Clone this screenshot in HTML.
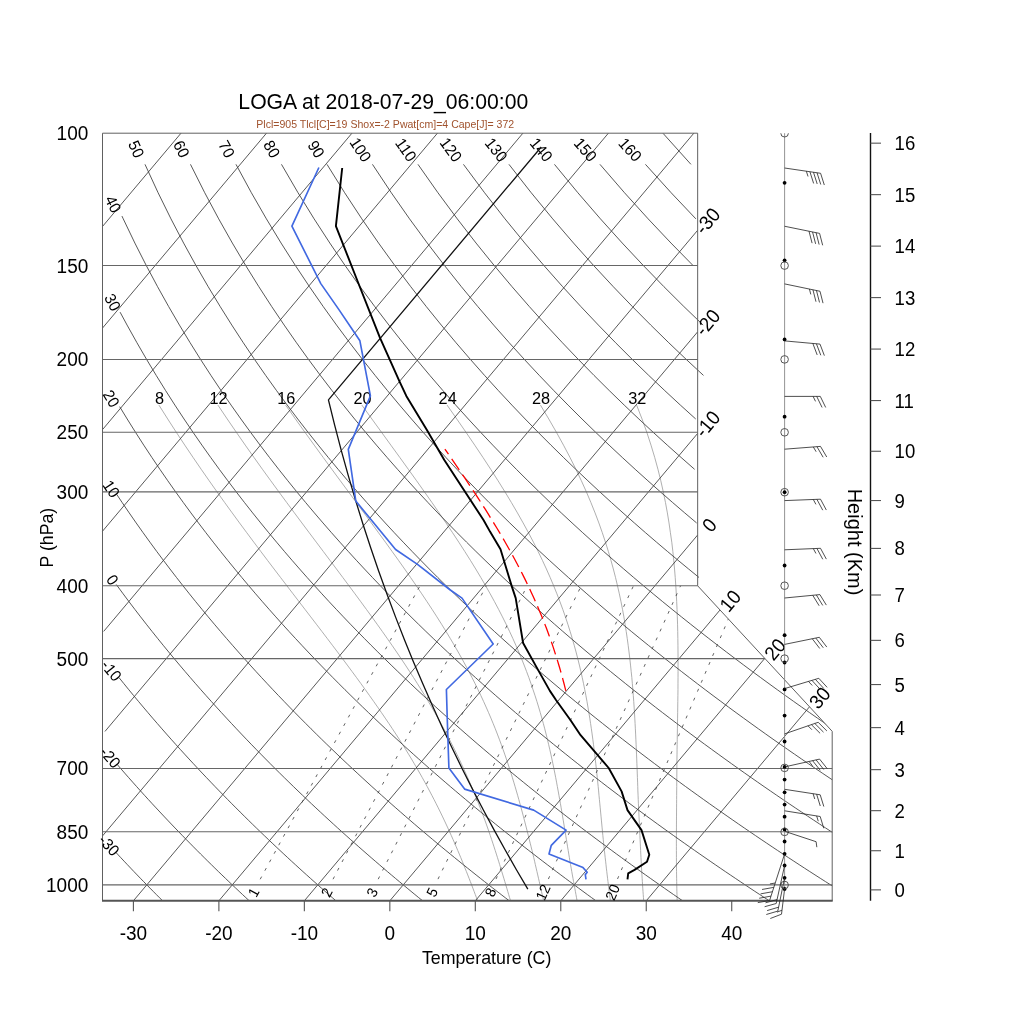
<!DOCTYPE html>
<html><head><meta charset="utf-8"><title>Skew-T LOGA</title>
<style>html,body{margin:0;padding:0;background:#fff;}svg{display:block;will-change:transform;}text{font-family:"Liberation Sans",sans-serif;}</style>
</head><body>
<svg width="1024" height="1024" viewBox="0 0 1024 1024"><defs><clipPath id="cp"><polygon points="102.5,900.8 832.2,900.8 832.2,731.32 697.66,585.8 697.66,133.2 102.5,133.2"/></clipPath><clipPath id="cp2"><polygon points="102.5,900.8 832.2,900.8 832.2,731.32 697.66,585.8 705.57,577.27 705.57,133.2 102.5,133.2"/></clipPath></defs>
<g clip-path="url(#cp)" fill="none" stroke="#9a9a9a" stroke-width="0.8"><polyline points="158.94,405.11 167.72,419.01 176.33,432.33 184.79,445.13 193.08,457.45 201.22,469.33 209.2,480.78 217.03,491.85 224.69,502.55 232.21,512.92 239.56,522.96 246.77,532.71 253.82,542.17 260.73,551.37 267.48,560.31 274.09,569.01 280.56,577.49 286.88,585.76 293.05,593.82 299.09,601.69 304.98,609.37 310.74,616.87 316.36,624.21 321.85,631.38 327.2,638.4 332.41,645.28 337.5,652.01 342.45,658.6 347.28,665.07 351.98,671.41 356.55,677.62 361,683.73 365.33,689.72 369.54,695.6 373.63,701.37 377.61,707.05 381.47,712.63 385.23,718.12 388.88,723.51 392.42,728.82 395.86,734.05 399.19,739.19 402.43,744.25 405.55,749.23 408.54,754.14 411.47,758.98 414.3,763.74 417.05,768.44 419.71,773.07 422.29,777.64 424.79,782.14 427.21,786.58 429.56,790.96 431.84,795.29 434.05,799.55 436.19,803.77 438.28,807.92 440.3,812.03 442.27,816.09 444.18,820.09 446.04,824.05 447.85,827.96 449.61,831.82 451.33,835.64 453,839.41 454.63,843.14 456.23,846.83 457.78,850.48 459.3,854.09 460.79,857.65 462.24,861.18 463.66,864.67 465.02,868.13 466.4,871.55 467.74,874.93 469.06,878.28 470.35,881.59 471.61,884.87 472.85,888.12 474.07,891.34 475.27,894.52 476.46,897.68 477.63,900.8"/><polyline points="217.93,405.11 227.26,419.01 236.38,432.33 245.28,445.13 253.98,457.45 262.48,469.33 270.77,480.78 278.86,491.85 286.74,502.55 294.43,512.92 301.91,522.96 309.21,532.71 316.31,542.17 323.22,551.37 329.94,560.31 336.47,569.01 342.82,577.49 348.98,585.76 354.97,593.82 360.77,601.69 366.4,609.37 371.86,616.87 377.14,624.21 382.25,631.38 387.2,638.4 391.99,645.28 396.61,652.01 401.08,658.6 405.4,665.07 409.56,671.41 413.58,677.62 417.45,683.73 421.19,689.72 424.8,695.6 428.27,701.37 431.62,707.05 434.84,712.63 437.95,718.12 440.95,723.51 443.84,728.82 446.62,734.05 449.29,739.19 451.88,744.25 454.39,749.23 456.8,754.14 459.13,758.98 461.37,763.74 463.54,768.44 465.64,773.07 467.67,777.64 469.64,782.14 471.54,786.58 473.38,790.96 475.17,795.29 476.91,799.55 478.6,803.77 480.24,807.92 481.84,812.03 483.37,816.09 484.84,820.09 486.27,824.05 487.65,827.96 489,831.82 490.3,835.64 491.58,839.41 492.82,843.14 494.03,846.83 495.21,850.48 496.36,854.09 497.49,857.65 498.6,861.18 499.68,864.67 500.72,868.13 501.78,871.55 502.81,874.93 503.82,878.28 504.82,881.59 505.8,884.87 506.77,888.12 507.72,891.34 508.67,894.52 509.6,897.68 510.54,900.8"/><polyline points="285.65,405.11 295.45,419.01 304.97,432.33 314.22,445.13 323.19,457.45 331.89,469.33 340.32,480.78 348.49,491.85 356.39,502.55 363.98,512.92 371.37,522.96 378.51,532.71 385.41,542.17 392.06,551.37 398.47,560.31 404.64,569.01 410.58,577.49 416.28,585.76 421.77,593.82 427.03,601.69 432.08,609.37 436.92,616.87 441.55,624.21 445.99,631.38 450.23,638.4 454.29,645.28 458.17,652.01 461.88,658.6 465.42,665.07 468.8,671.41 472.03,677.62 475.12,683.73 478.06,689.72 480.87,695.6 483.56,701.37 486.12,707.05 488.57,712.63 490.91,718.12 493.15,723.51 495.3,728.82 497.34,734.05 499.3,739.19 501.18,744.25 502.98,749.23 504.7,754.14 506.36,758.98 507.96,763.74 509.49,768.44 510.97,773.07 512.39,777.64 513.76,782.14 515.09,786.58 516.37,790.96 517.62,795.29 518.82,799.55 519.99,803.77 521.12,807.92 522.23,812.03 523.31,816.09 524.36,820.09 525.38,824.05 526.38,827.96 527.37,831.82 528.33,835.64 529.27,839.41 530.2,843.14 531.12,846.83 532.02,850.48 532.91,854.09 533.75,857.65 534.58,861.18 535.35,864.67 536.16,868.13 536.95,871.55 537.73,874.93 538.49,878.28 539.25,881.59 539.99,884.87 540.73,888.12 541.46,891.34 542.19,894.52 542.91,897.68 543.63,900.8"/><polyline points="361.88,405.11 371.92,419.01 381.58,432.33 390.87,445.13 399.8,457.45 408.37,469.33 416.58,480.78 424.45,491.85 431.97,502.55 439.17,512.92 446.03,522.96 452.54,532.71 458.79,542.17 464.73,551.37 470.38,560.31 475.74,569.01 480.82,577.49 485.64,585.76 490.2,593.82 494.52,601.69 498.6,609.37 502.46,616.87 506.11,624.21 509.55,631.38 512.8,638.4 515.87,645.28 518.77,652.01 521.51,658.6 524.1,665.07 526.54,671.41 528.86,677.62 531.03,683.73 533.06,689.72 535.04,695.6 536.88,701.37 538.62,707.05 540.27,712.63 541.84,718.12 543.33,723.51 544.74,728.82 546.08,734.05 547.35,739.19 548.57,744.25 549.73,749.23 550.83,754.14 551.89,758.98 552.9,763.74 553.87,768.44 554.8,773.07 555.7,777.64 556.56,782.14 557.35,786.58 558.16,790.96 558.95,795.29 559.71,799.55 560.45,803.77 561.16,807.92 561.86,812.03 562.54,816.09 563.21,820.09 563.86,824.05 564.51,827.96 565.14,831.82 565.76,835.64 566.38,839.41 566.99,843.14 567.59,846.83 568.19,850.48 568.79,854.09 569.39,857.65 569.95,861.18 570.56,864.67 571.17,868.13 571.77,871.55 572.37,874.93 572.97,878.28 573.57,881.59 574.18,884.87 574.78,888.12 575.37,891.34 575.95,894.52 576.53,897.68 577.1,900.8"/><polyline points="447.08,405.11 456.81,419.01 466.02,432.33 474.74,445.13 482.98,457.45 490.75,469.33 498.07,480.78 504.96,491.85 511.42,502.55 517.46,512.92 523.15,522.96 528.47,532.71 533.44,542.17 538.07,551.37 542.39,560.31 546.42,569.01 550.17,577.49 553.66,585.76 556.92,593.82 559.95,601.69 562.77,609.37 565.4,616.87 567.84,624.21 570.1,631.38 572.24,638.4 574.21,645.28 576.05,652.01 577.77,658.6 579.37,665.07 580.86,671.41 582.25,677.62 583.55,683.73 584.76,689.72 585.9,695.6 586.96,701.37 587.95,707.05 588.89,712.63 589.77,718.12 590.59,723.51 591.37,728.82 592.11,734.05 592.8,739.19 593.46,744.25 594.08,749.23 594.68,754.14 595.24,758.98 595.78,763.74 596.3,768.44 596.8,773.07 597.27,777.64 597.73,782.14 598.18,786.58 598.61,790.96 598.99,795.29 599.41,799.55 599.82,803.77 600.22,807.92 600.61,812.03 601,816.09 601.38,820.09 601.75,824.05 602.13,827.96 602.5,831.82 602.87,835.64 603.25,839.41 603.62,843.14 604,846.83 604.39,850.48 604.79,854.09 605.2,857.65 605.6,861.18 605.99,864.67 606.37,868.13 606.77,871.55 607.18,874.93 607.57,878.28 607.97,881.59 608.37,884.87 608.77,888.12 609.17,891.34 609.58,894.52 609.99,897.68 610.41,900.8"/><polyline points="540.48,405.11 548.79,419.01 556.45,432.33 563.51,445.13 569.99,457.45 575.94,469.33 581.38,480.78 586.37,491.85 590.92,502.55 595.07,512.92 598.86,522.96 602.3,532.71 605.45,542.17 608.33,551.37 610.95,560.31 613.34,569.01 615.53,577.49 617.49,585.76 619.34,593.82 621,601.69 622.51,609.37 623.88,616.87 625.07,624.21 626.2,631.38 627.23,638.4 628.17,645.28 629.03,652.01 629.81,658.6 630.53,665.07 631.18,671.41 631.83,677.62 632.37,683.73 632.86,689.72 633.31,695.6 633.73,701.37 634.11,707.05 634.46,712.63 634.79,718.12 635.09,723.51 635.37,728.82 635.63,734.05 635.87,739.19 636.1,744.25 636.32,749.23 636.52,754.14 636.72,758.98 636.9,763.74 637.08,768.44 637.26,773.07 637.43,777.64 637.6,782.14 637.76,786.58 637.89,790.96 638.07,795.29 638.24,799.55 638.41,803.77 638.59,807.92 638.79,812.03 638.99,816.09 639.18,820.09 639.36,824.05 639.55,827.96 639.73,831.82 639.91,835.64 640.09,839.41 640.27,843.14 640.45,846.83 640.63,850.48 640.81,854.09 640.99,857.65 641.17,861.18 641.34,864.67 641.54,868.13 641.74,871.55 641.94,874.93 642.14,878.28 642.35,881.59 642.56,884.87 642.77,888.12 642.99,891.34 643.22,894.52 643.45,897.68 643.7,900.8"/><polyline points="636.64,405.11 642.04,419.01 646.82,432.33 651,445.13 654.71,457.45 657.96,469.33 660.8,480.78 663.29,491.85 665.47,502.55 667.37,512.92 669.03,522.96 670.4,532.71 671.78,542.17 672.85,551.37 673.74,560.31 674.54,569.01 675.22,577.49 675.8,585.76 676.29,593.82 676.7,601.69 677.04,609.37 677.32,616.87 677.55,624.21 677.72,631.38 677.85,638.4 677.95,645.28 678.01,652.01 678.05,658.6 678.06,665.07 678.06,671.41 678.03,677.62 677.99,683.73 677.97,689.72 677.9,695.6 677.82,701.37 677.74,707.05 677.66,712.63 677.58,718.12 677.49,723.51 677.41,728.82 677.32,734.05 677.24,739.19 677.16,744.25 677.09,749.23 677.02,754.14 676.95,758.98 676.9,763.74 676.88,768.44 676.85,773.07 676.82,777.64 676.76,782.14 676.73,786.58 676.7,790.96 676.67,795.29 676.64,799.55 676.6,803.77 676.57,807.92 676.54,812.03 676.51,816.09 676.49,820.09 676.46,824.05 676.44,827.96 676.43,831.82 676.41,835.64 676.4,839.41 676.4,843.14 676.4,846.83 676.4,850.48 676.41,854.09 676.43,857.65 676.45,861.18 676.46,864.67 676.49,868.13 676.54,871.55 676.58,874.93 676.63,878.28 676.69,881.59 676.75,884.87 676.82,888.12 676.89,891.34 676.97,894.52 677.06,897.68 677.16,900.8"/></g>
<g clip-path="url(#cp)" fill="none" stroke="#3a3a3a" stroke-width="0.8" stroke-dasharray="3,6.7" stroke-dashoffset="3.3"><line x1="257.14" y1="884.87" x2="420.01" y2="585.76"/><line x1="330.08" y1="884.87" x2="486.27" y2="585.76"/><line x1="375.31" y1="884.87" x2="527.22" y2="585.76"/><line x1="435.18" y1="884.87" x2="581.25" y2="585.76"/><line x1="493.27" y1="884.87" x2="633.51" y2="585.76"/><line x1="545.75" y1="884.87" x2="680.59" y2="585.76"/><line x1="615.02" y1="884.87" x2="742.55" y2="585.76"/></g>
<g stroke="#3a3a3a" stroke-width="0.85"><line x1="102.53" y1="226.46" x2="181.01" y2="133.2"/><line x1="102.58" y1="327.98" x2="266.48" y2="133.2"/><line x1="102.63" y1="429.49" x2="351.96" y2="133.2"/><line x1="102.52" y1="531.2" x2="437.43" y2="133.2"/><line x1="103.69" y1="631.38" x2="522.91" y2="133.2"/><line x1="104.96" y1="731.44" x2="608.38" y2="133.2"/><line x1="102.51" y1="835.94" x2="693.85" y2="133.2"/><line x1="133.4" y1="900.8" x2="697.62" y2="230.3"/><line x1="218.88" y1="900.8" x2="697.51" y2="332.01"/><line x1="304.35" y1="900.8" x2="697.56" y2="433.52"/><line x1="389.83" y1="900.8" x2="697.61" y2="535.04"/><line x1="475.3" y1="900.8" x2="719.95" y2="610.07"/><line x1="560.78" y1="900.8" x2="764.73" y2="658.43"/><line x1="646.25" y1="900.8" x2="809.51" y2="706.79"/></g>
<g clip-path="url(#cp2)" fill="none" stroke="#3a3a3a" stroke-width="0.85"><polyline points="162.58,900.8 159.45,897.68 156.31,894.52 153.16,891.34 149.99,888.12 146.81,884.87 143.61,881.59 140.39,878.28 137.17,874.93 133.92,871.55 130.66,868.13 127.39,864.67 124.09,861.18 120.79,857.65 117.46,854.09 115.79,852.29"/><polyline points="249.25,900.8 245.89,897.68 242.51,894.52 239.12,891.34 235.71,888.12 232.28,884.87 228.84,881.59 225.38,878.28 221.9,874.93 218.4,871.55 214.89,868.13 211.36,864.67 207.81,861.18 204.25,857.65 200.66,854.09 197.06,850.48 193.44,846.83 189.8,843.14 186.13,839.41 182.45,835.64 178.75,831.82 175.03,827.96 171.29,824.05 167.53,820.09 163.74,816.09 159.94,812.03 156.11,807.92 152.26,803.77 148.39,799.55 144.49,795.29 140.57,790.96 136.63,786.58 132.67,782.14 128.68,777.64 124.66,773.07 120.63,768.44 117.05,764.31"/><polyline points="335.93,900.8 332.33,897.68 328.71,894.52 325.08,891.34 321.43,888.12 317.76,884.87 314.07,881.59 310.36,878.28 306.63,874.93 302.89,871.55 299.12,868.13 295.34,864.67 291.53,861.18 287.71,857.65 283.87,854.09 280,850.48 276.11,846.83 272.2,843.14 268.27,839.41 264.32,835.64 260.35,831.82 256.35,827.96 252.33,824.05 248.29,820.09 244.22,816.09 240.13,812.03 236.02,807.92 231.88,803.77 227.71,799.55 223.52,795.29 219.3,790.96 215.06,786.58 210.79,782.14 206.5,777.64 202.17,773.07 197.82,768.44 193.44,763.74 189.03,758.98 184.59,754.14 180.12,749.23 175.62,744.25 171.09,739.19 166.53,734.05 161.93,728.82 157.3,723.51 152.64,718.12 147.95,712.63 143.22,707.05 138.45,701.37 133.65,695.6 128.82,689.72 123.94,683.73 119.03,677.62 118.93,677.5"/><polyline points="422.6,900.8 418.76,897.68 414.91,894.52 411.04,891.34 407.14,888.12 403.23,884.87 399.3,881.59 395.34,878.28 391.37,874.93 387.37,871.55 383.35,868.13 379.32,864.67 375.26,861.18 371.17,857.65 367.07,854.09 362.94,850.48 358.79,846.83 354.61,843.14 350.42,839.41 346.19,835.64 341.95,831.82 337.67,827.96 333.38,824.05 329.05,820.09 324.7,816.09 320.33,812.03 315.92,807.92 311.49,803.77 307.04,799.55 302.55,795.29 298.03,790.96 293.49,786.58 288.92,782.14 284.31,777.64 279.68,773.07 275.01,768.44 270.31,763.74 265.58,758.98 260.82,754.14 256.03,749.23 251.2,744.25 246.33,739.19 241.43,734.05 236.49,728.82 231.52,723.51 226.51,718.12 221.46,712.63 216.37,707.05 211.25,701.37 206.08,695.6 200.87,689.72 195.62,683.73 190.33,677.62 184.99,671.41 179.61,665.07 174.18,658.6 168.71,652.01 163.19,645.28 157.62,638.4 152,631.38 146.33,624.21 140.61,616.87 134.84,609.37 129.01,601.69 123.13,593.82 117.19,585.76 116.29,584.53"/><polyline points="509.27,900.8 505.2,897.68 501.11,894.52 497,891.34 492.86,888.12 488.7,884.87 484.53,881.59 480.32,878.28 476.1,874.93 471.86,871.55 467.59,868.13 463.29,864.67 458.98,861.18 454.64,857.65 450.27,854.09 445.88,850.48 441.46,846.83 437.02,843.14 432.56,839.41 428.06,835.64 423.54,831.82 418.99,827.96 414.42,824.05 409.82,820.09 405.18,816.09 400.52,812.03 395.83,807.92 391.11,803.77 386.36,799.55 381.58,795.29 376.77,790.96 371.92,786.58 367.04,782.14 362.13,777.64 357.19,773.07 352.21,768.44 347.19,763.74 342.14,758.98 337.06,754.14 331.93,749.23 326.77,744.25 321.57,739.19 316.33,734.05 311.06,728.82 305.74,723.51 300.38,718.12 294.98,712.63 289.53,707.05 284.04,701.37 278.51,695.6 272.93,689.72 267.3,683.73 261.62,677.62 255.9,671.41 250.13,665.07 244.3,658.6 238.42,652.01 232.49,645.28 226.51,638.4 220.47,631.38 214.37,624.21 208.21,616.87 202,609.37 195.72,601.69 189.38,593.82 182.97,585.76 176.5,577.49 169.97,569.01 163.36,560.31 156.68,551.37 149.93,542.17 143.1,532.71 136.2,522.96 129.22,512.92 122.16,502.55 116.88,494.67"/><polyline points="595.95,900.8 591.64,897.68 587.31,894.52 582.96,891.34 578.58,888.12 574.18,884.87 569.76,881.59 565.31,878.28 560.84,874.93 556.34,871.55 551.82,868.13 547.27,864.67 542.7,861.18 538.1,857.65 533.47,854.09 528.82,850.48 524.14,846.83 519.43,843.14 514.7,839.41 509.93,835.64 505.14,831.82 500.32,827.96 495.46,824.05 490.58,820.09 485.66,816.09 480.72,812.03 475.74,807.92 470.73,803.77 465.69,799.55 460.61,795.29 455.5,790.96 450.35,786.58 445.17,782.14 439.95,777.64 434.69,773.07 429.4,768.44 424.07,763.74 418.7,758.98 413.29,754.14 407.84,749.23 402.35,744.25 396.82,739.19 391.24,734.05 385.62,728.82 379.96,723.51 374.25,718.12 368.49,712.63 362.69,707.05 356.83,701.37 350.93,695.6 344.98,689.72 338.98,683.73 332.92,677.62 326.81,671.41 320.64,665.07 314.42,658.6 308.14,652.01 301.8,645.28 295.4,638.4 288.94,631.38 282.41,624.21 275.82,616.87 269.16,609.37 262.43,601.69 255.63,593.82 248.76,585.76 241.82,577.49 234.8,569.01 227.7,560.31 220.52,551.37 213.25,542.17 205.91,532.71 198.47,522.96 190.95,512.92 183.33,502.55 175.62,491.85 167.81,480.78 159.9,469.33 151.88,457.45 143.76,445.13 135.54,432.33 127.2,419.01 119.68,406.67"/><polyline points="682.62,900.8 678.08,897.68 673.51,894.52 668.92,891.34 664.3,888.12 659.65,884.87 654.98,881.59 650.29,878.28 645.57,874.93 640.82,871.55 636.05,868.13 631.25,864.67 626.42,861.18 621.56,857.65 616.67,854.09 611.76,850.48 606.82,846.83 601.84,843.14 596.84,839.41 591.8,835.64 586.74,831.82 581.64,827.96 576.51,824.05 571.34,820.09 566.14,816.09 560.91,812.03 555.65,807.92 550.35,803.77 545.01,799.55 539.64,795.29 534.23,790.96 528.78,786.58 523.29,782.14 517.77,777.64 512.2,773.07 506.59,768.44 500.95,763.74 495.26,758.98 489.52,754.14 483.75,749.23 477.92,744.25 472.06,739.19 466.14,734.05 460.18,728.82 454.17,723.51 448.11,718.12 442,712.63 435.84,707.05 429.63,701.37 423.36,695.6 417.03,689.72 410.65,683.73 404.21,677.62 397.72,671.41 391.16,665.07 384.54,658.6 377.85,652.01 371.1,645.28 364.29,638.4 357.4,631.38 350.45,624.21 343.42,616.87 336.32,609.37 329.14,601.69 321.89,593.82 314.55,585.76 307.13,577.49 299.63,569.01 292.04,560.31 284.35,551.37 276.58,542.17 268.71,532.71 260.74,522.96 252.67,512.92 244.5,502.55 236.21,491.85 227.82,480.78 219.31,469.33 210.68,457.45 201.93,445.13 193.06,432.33 184.05,419.01 174.91,405.11 165.64,390.6 156.22,375.42 146.65,359.49 136.94,342.74 127.08,325.09 120.09,312.15"/><polyline points="769.3,900.8 764.52,897.68 759.71,894.52 754.87,891.34 750.01,888.12 745.13,884.87 740.21,881.59 735.27,878.28 730.3,874.93 725.31,871.55 720.28,868.13 715.22,864.67 710.14,861.18 705.02,857.65 699.88,854.09 694.7,850.48 689.49,846.83 684.25,843.14 678.98,839.41 673.67,835.64 668.33,831.82 662.96,827.96 657.55,824.05 652.11,820.09 646.63,816.09 641.11,812.03 635.56,807.92 629.96,803.77 624.33,799.55 618.67,795.29 612.96,790.96 607.21,786.58 601.42,782.14 595.58,777.64 589.71,773.07 583.79,768.44 577.82,763.74 571.81,758.98 565.76,754.14 559.65,749.23 553.5,744.25 547.3,739.19 541.05,734.05 534.75,728.82 528.39,723.51 521.98,718.12 515.52,712.63 509,707.05 502.42,701.37 495.78,695.6 489.09,689.72 482.33,683.73 475.51,677.62 468.63,671.41 461.68,665.07 454.66,658.6 447.57,652.01 440.41,645.28 433.18,638.4 425.87,631.38 418.49,624.21 411.03,616.87 403.48,609.37 395.85,601.69 388.14,593.82 380.34,585.76 372.44,577.49 364.46,569.01 356.37,560.31 348.19,551.37 339.9,542.17 331.51,532.71 323.01,522.96 314.39,512.92 305.66,502.55 296.81,491.85 287.83,480.78 278.72,469.33 269.48,457.45 260.1,445.13 250.58,432.33 240.91,419.01 231.08,405.11 221.09,390.6 210.94,375.42 200.62,359.49 190.13,342.74 179.45,325.09 168.59,306.44 157.54,286.65 146.3,265.58 134.87,243.06 123.25,218.86 121.96,216.09"/><polyline points="835.73,888.12 830.6,884.87 825.44,881.59 820.26,878.28 815.04,874.93 809.79,871.55 804.51,868.13 799.2,864.67 793.86,861.18 788.49,857.65 783.08,854.09 777.64,850.48 772.17,846.83 766.66,843.14 761.12,839.41 755.54,835.64 749.93,831.82 744.28,827.96 738.59,824.05 732.87,820.09 727.11,816.09 721.3,812.03 715.46,807.92 709.58,803.77 703.66,799.55 697.69,795.29 691.69,790.96 685.64,786.58 679.54,782.14 673.4,777.64 667.21,773.07 660.98,768.44 654.7,763.74 648.37,758.98 641.99,754.14 635.56,749.23 629.08,744.25 622.54,739.19 615.95,734.05 609.31,728.82 602.61,723.51 595.85,718.12 589.03,712.63 582.15,707.05 575.21,701.37 568.21,695.6 561.14,689.72 554.01,683.73 546.81,677.62 539.53,671.41 532.19,665.07 524.78,658.6 517.28,652.01 509.72,645.28 502.07,638.4 494.34,631.38 486.53,624.21 478.63,616.87 470.64,609.37 462.56,601.69 454.39,593.82 446.13,585.76 437.76,577.49 429.29,569.01 420.71,560.31 412.03,551.37 403.23,542.17 394.31,532.71 385.28,522.96 376.12,512.92 366.83,502.55 357.41,491.85 347.84,480.78 338.14,469.33 328.28,457.45 318.27,445.13 308.1,432.33 297.76,419.01 287.25,405.11 276.55,390.6 265.67,375.42 254.59,359.49 243.31,342.74 231.82,325.09 220.11,306.44 208.17,286.65 196.01,265.58 183.61,243.06 170.97,218.86 158.09,192.73 144.99,164.33"/><polyline points="837.41,835.64 831.52,831.82 825.6,827.96 819.64,824.05 813.63,820.09 807.59,816.09 801.5,812.03 795.37,807.92 789.2,803.77 782.98,799.55 776.72,795.29 770.42,790.96 764.06,786.58 757.67,782.14 751.22,777.64 744.72,773.07 738.17,768.44 731.58,763.74 724.93,758.98 718.22,754.14 711.47,749.23 704.65,744.25 697.78,739.19 690.86,734.05 683.87,728.82 676.82,723.51 669.72,718.12 662.54,712.63 655.31,707.05 648.01,701.37 640.64,695.6 633.2,689.72 625.69,683.73 618.1,677.62 610.44,671.41 602.71,665.07 594.89,658.6 587,652.01 579.02,645.28 570.96,638.4 562.81,631.38 554.57,624.21 546.23,616.87 537.8,609.37 529.28,601.69 520.65,593.82 511.91,585.76 503.07,577.49 494.12,569.01 485.05,560.31 475.86,551.37 466.55,542.17 457.12,532.71 447.55,522.96 437.84,512.92 428,502.55 418,491.85 407.86,480.78 397.55,469.33 387.08,457.45 376.44,445.13 365.62,432.33 354.61,419.01 343.41,405.11 332.01,390.6 320.4,375.42 308.56,359.49 296.49,342.74 284.19,325.09 271.63,306.44 258.81,286.65 245.72,265.58 232.35,243.06 218.69,218.86 204.73,192.73 190.48,164.33"/><polyline points="835.79,782.14 829.04,777.64 822.23,773.07 815.37,768.44 808.45,763.74 801.48,758.98 794.46,754.14 787.37,749.23 780.23,744.25 773.03,739.19 765.76,734.05 758.43,728.82 751.04,723.51 743.58,718.12 736.06,712.63 728.46,707.05 720.8,701.37 713.06,695.6 705.25,689.72 697.36,683.73 689.4,677.62 681.35,671.41 673.22,665.07 665.01,658.6 656.71,652.01 648.33,645.28 639.85,638.4 631.28,631.38 622.61,624.21 613.84,616.87 604.97,609.37 595.99,601.69 586.9,593.82 577.7,585.76 568.39,577.49 558.95,569.01 549.39,560.31 539.7,551.37 529.88,542.17 519.92,532.71 509.82,522.96 499.57,512.92 489.16,502.55 478.6,491.85 467.87,480.78 456.97,469.33 445.88,457.45 434.61,445.13 423.14,432.33 411.47,419.01 399.58,405.11 387.47,390.6 375.12,375.42 362.53,359.49 349.68,342.74 336.56,325.09 323.15,306.44 309.45,286.65 295.43,265.58 281.09,243.06 266.4,218.86 251.37,192.73 235.98,164.33"/><polyline points="833,728.82 825.26,723.51 817.45,718.12 809.57,712.63 801.62,707.05 793.59,701.37 785.49,695.6 777.3,689.72 769.04,683.73 760.69,677.62 752.26,671.41 743.74,665.07 735.13,658.6 726.43,652.01 717.63,645.28 708.74,638.4 699.74,631.38 690.65,624.21 681.44,616.87 672.13,609.37 662.7,601.69 653.15,593.82 643.49,585.76 633.7,577.49 623.78,569.01 613.73,560.31 603.54,551.37 593.21,542.17 582.72,532.71 572.09,522.96 561.29,512.92 550.33,502.55 539.2,491.85 527.88,480.78 516.38,469.33 504.68,457.45 492.78,445.13 480.66,432.33 468.32,419.01 455.75,405.11 442.93,390.6 429.85,375.42 416.5,359.49 402.86,342.74 388.92,325.09 374.67,306.44 360.08,286.65 345.14,265.58 329.83,243.06 314.12,218.86 298.01,192.73 281.47,164.33"/><polyline points="699.01,577.49 688.61,569.01 678.07,560.31 667.38,551.37 656.53,542.17 645.53,532.71 634.36,522.96 623.02,512.92 611.5,502.55 599.79,491.85 587.9,480.78 575.79,469.33 563.48,457.45 550.95,445.13 538.18,432.33 525.18,419.01 511.92,405.11 498.39,390.6 484.57,375.42 470.47,359.49 456.04,342.74 441.29,325.09 426.19,306.44 410.72,286.65 394.85,265.58 378.57,243.06 361.84,218.86 344.65,192.73 326.97,164.33"/><polyline points="696.63,522.96 684.74,512.92 672.67,502.55 660.39,491.85 647.91,480.78 635.21,469.33 622.28,457.45 609.12,445.13 595.71,432.33 582.03,419.01 568.08,405.11 553.84,390.6 539.3,375.42 524.43,359.49 509.23,342.74 493.66,325.09 477.71,306.44 461.35,286.65 444.56,265.58 427.31,243.06 409.56,218.86 391.29,192.73 372.46,164.33"/><polyline points="694.62,469.33 681.08,457.45 667.29,445.13 653.23,432.33 638.89,419.01 624.25,405.11 609.3,390.6 594.03,375.42 578.4,359.49 562.41,342.74 546.03,325.09 529.23,306.44 511.99,286.65 494.27,265.58 476.05,243.06 457.28,218.86 437.93,192.73 417.96,164.33"/><polyline points="695.74,419.01 680.42,405.11 664.76,390.6 648.75,375.42 632.37,359.49 615.6,342.74 598.4,325.09 580.75,306.44 562.62,286.65 543.98,265.58 524.79,243.06 505,218.86 484.57,192.73 463.45,164.33"/><polyline points="703.48,375.42 686.34,359.49 668.78,342.74 650.77,325.09 632.27,306.44 613.26,286.65 593.69,265.58 573.53,243.06 552.72,218.86 531.21,192.73 508.95,164.33"/><polyline points="703.13,325.09 683.79,306.44 663.89,286.65 643.4,265.58 622.27,243.06 600.44,218.86 577.85,192.73 554.44,164.33"/><polyline points="693.11,265.58 671.01,243.06 648.16,218.86 624.49,192.73 599.94,164.33"/><polyline points="695.88,218.86 671.13,192.73 645.43,164.33"/><polyline points="690.93,164.33 662.95,133.22"/></g>
<g stroke="#666" stroke-width="1.05"><line x1="102.5" y1="884.87" x2="832.2" y2="884.87"/><line x1="102.5" y1="831.82" x2="832.2" y2="831.82"/><line x1="102.5" y1="768.44" x2="832.2" y2="768.44"/><line x1="102.5" y1="658.6" x2="764.96" y2="658.6"/><line x1="102.5" y1="585.76" x2="697.66" y2="585.76"/><line x1="102.5" y1="491.85" x2="697.66" y2="491.85"/><line x1="102.5" y1="432.33" x2="697.66" y2="432.33"/><line x1="102.5" y1="359.49" x2="697.66" y2="359.49"/><line x1="102.5" y1="265.58" x2="697.66" y2="265.58"/></g>
<polyline points="832.2,900.8 832.2,731.32 697.66,585.8 697.66,133.2 102.5,133.2 102.5,900.8" fill="none" stroke="#606060" stroke-width="1.0"/>
<line x1="102" y1="900.8" x2="832.7" y2="900.8" stroke="#555" stroke-width="2"/>
<g stroke="#555" stroke-width="1.1"><line x1="133.4" y1="900.8" x2="133.4" y2="911.3"/><line x1="218.88" y1="900.8" x2="218.88" y2="911.3"/><line x1="304.35" y1="900.8" x2="304.35" y2="911.3"/><line x1="389.83" y1="900.8" x2="389.83" y2="911.3"/><line x1="475.3" y1="900.8" x2="475.3" y2="911.3"/><line x1="560.78" y1="900.8" x2="560.78" y2="911.3"/><line x1="646.25" y1="900.8" x2="646.25" y2="911.3"/><line x1="731.73" y1="900.8" x2="731.73" y2="911.3"/></g>
<g font-family="Liberation Sans, sans-serif"><text transform="translate(136.4,149.1) rotate(65.23) scale(1,1.05)" y="5.32" font-size="15.2" text-anchor="middle">50</text><text transform="translate(181.5,149.1) rotate(63.36) scale(1,1.05)" y="5.32" font-size="15.2" text-anchor="middle">60</text><text transform="translate(226.6,149.1) rotate(61.54) scale(1,1.05)" y="5.32" font-size="15.2" text-anchor="middle">70</text><text transform="translate(271.8,149.1) rotate(59.79) scale(1,1.05)" y="5.32" font-size="15.2" text-anchor="middle">80</text><text transform="translate(316.3,149.1) rotate(58.09) scale(1,1.05)" y="5.32" font-size="15.2" text-anchor="middle">90</text><text transform="translate(360.6,149.7) rotate(56.46) scale(1,1.05)" y="5.32" font-size="15.2" text-anchor="middle">100</text><text transform="translate(406,149.7) rotate(54.88) scale(1,1.05)" y="5.32" font-size="15.2" text-anchor="middle">110</text><text transform="translate(451.1,149.7) rotate(53.37) scale(1,1.05)" y="5.32" font-size="15.2" text-anchor="middle">120</text><text transform="translate(496.2,149.7) rotate(51.91) scale(1,1.05)" y="5.32" font-size="15.2" text-anchor="middle">130</text><text transform="translate(541.3,149.7) rotate(50.51) scale(1,1.05)" y="5.32" font-size="15.2" text-anchor="middle">140</text><text transform="translate(585.6,149.7) rotate(49.16) scale(1,1.05)" y="5.32" font-size="15.2" text-anchor="middle">150</text><text transform="translate(630.2,149.7) rotate(47.86) scale(1,1.05)" y="5.32" font-size="15.2" text-anchor="middle">160</text><text transform="translate(113.3,204.2) rotate(64.49) scale(1,1.05)" y="5.32" font-size="15.2" text-anchor="middle">40</text><text transform="translate(112.6,302.3) rotate(61.48) scale(1,1.05)" y="5.32" font-size="15.2" text-anchor="middle">30</text><text transform="translate(111.4,398.5) rotate(58.6) scale(1,1.05)" y="5.32" font-size="15.2" text-anchor="middle">20</text><text transform="translate(111.4,488.9) rotate(56.14) scale(1,1.05)" y="5.32" font-size="15.2" text-anchor="middle">10</text><text transform="translate(112.4,579.9) rotate(53.68) scale(1,1.05)" y="5.32" font-size="15.2" text-anchor="middle">0</text><text transform="translate(111.4,670.5) rotate(51.18) scale(1,1.05)" y="5.32" font-size="15.2" text-anchor="middle">-10</text><text transform="translate(110.3,757.3) rotate(49.1) scale(1,1.05)" y="5.32" font-size="15.2" text-anchor="middle">-20</text><text transform="translate(109.1,845.3) rotate(47.11) scale(1,1.05)" y="5.32" font-size="15.2" text-anchor="middle">-30</text><text transform="translate(707.36,220.86) rotate(-49.92) scale(1,1.05)" y="6.58" font-size="18.8" text-anchor="middle">-30</text><text transform="translate(707.36,322.43) rotate(-49.92) scale(1,1.05)" y="6.58" font-size="18.8" text-anchor="middle">-20</text><text transform="translate(707.36,424.01) rotate(-49.92) scale(1,1.05)" y="6.58" font-size="18.8" text-anchor="middle">-10</text><text transform="translate(709.36,525.08) rotate(-49.92) scale(1,1.05)" y="6.58" font-size="18.8" text-anchor="middle">0</text><text transform="translate(730.22,600.89) rotate(-49.92) scale(1,1.05)" y="6.58" font-size="18.8" text-anchor="middle">10</text><text transform="translate(774.97,649.29) rotate(-49.92) scale(1,1.05)" y="6.58" font-size="18.8" text-anchor="middle">20</text><text transform="translate(819.71,697.68) rotate(-49.92) scale(1,1.05)" y="6.58" font-size="18.8" text-anchor="middle">30</text><text transform="translate(159.54,398.3)" y="5.71" font-size="16.3" text-anchor="middle">8</text><text transform="translate(218.53,398.3)" y="5.71" font-size="16.3" text-anchor="middle">12</text><text transform="translate(286.25,398.3)" y="5.71" font-size="16.3" text-anchor="middle">16</text><text transform="translate(362.48,398.3)" y="5.71" font-size="16.3" text-anchor="middle">20</text><text transform="translate(447.68,398.3)" y="5.71" font-size="16.3" text-anchor="middle">24</text><text transform="translate(541.08,398.3)" y="5.71" font-size="16.3" text-anchor="middle">28</text><text transform="translate(637.24,398.3)" y="5.71" font-size="16.3" text-anchor="middle">32</text><text transform="translate(253.63,892.34) rotate(-61.43) scale(1,1.05)" y="4.9" font-size="14" text-anchor="middle">1</text><text transform="translate(326.76,892.34) rotate(-62.43) scale(1,1.05)" y="4.9" font-size="14" text-anchor="middle">2</text><text transform="translate(372.11,892.34) rotate(-63.08) scale(1,1.05)" y="4.9" font-size="14" text-anchor="middle">3</text><text transform="translate(432.15,892.34) rotate(-63.97) scale(1,1.05)" y="4.9" font-size="14" text-anchor="middle">5</text><text transform="translate(490.4,892.34) rotate(-64.88) scale(1,1.05)" y="4.9" font-size="14" text-anchor="middle">8</text><text transform="translate(543.05,892.34) rotate(-65.73) scale(1,1.05)" y="4.9" font-size="14" text-anchor="middle">12</text><text transform="translate(612.53,892.34) rotate(-66.91) scale(1,1.05)" y="4.9" font-size="14" text-anchor="middle">20</text></g>
<polyline points="527.83,889.17 516.42,869.71 505.21,850.02 494.19,830.11 483.36,809.96 472.74,789.58 462.32,768.95 452.11,748.06 442.12,726.92 432.35,705.52 422.81,683.85 413.5,661.89 404.44,639.66 395.61,617.13 387.04,594.3 378.73,571.17 370.69,547.72 362.92,523.94 355.43,499.83 348.22,475.37 341.32,450.57 334.72,425.39 328.44,399.85 328.45,399.84 541.24,146.96" fill="none" stroke="#111" stroke-width="1.3"/>
<polyline points="565.85,690.9 565.14,688.04 564.4,685.16 563.65,682.25 562.87,679.31 562.06,676.35 561.23,673.36 560.38,670.34 559.49,667.29 558.58,664.22 557.64,661.12 556.67,657.98 555.63,654.82 554.62,651.62 553.58,648.4 552.5,645.14 551.35,641.85 550.18,638.52 548.97,635.16 547.72,631.77 546.44,628.34 545.11,624.87 543.74,621.37 542.33,617.83 540.87,614.25 539.36,610.63 537.81,606.97 536.2,603.27 534.55,599.52 532.84,595.74 531.08,591.9 529.26,588.03 527.38,584.1 525.45,580.13 523.45,576.11 521.39,572.04 519.27,567.91 517.08,563.74 514.82,559.51 512.49,555.22 510.09,550.88 507.62,546.48 505.08,542.02 502.45,537.5 499.75,532.91 496.97,528.26 494.11,523.54 491.16,518.75 488.17,513.89 485.07,508.96 481.87,503.95 478.59,498.87 475.22,493.7 471.76,488.45 468.21,483.11 464.56,477.69 460.82,472.17 456.99,466.56 453.06,460.85 449.03,455.04 444.9,449.13" fill="none" stroke="#ff0000" stroke-width="1.3" stroke-dasharray="13.29,5.7"/>
<polyline points="342.2,168 335.9,226.1 357.5,281 379.8,337.3 399.7,381.8 406.3,395.9 426.9,430 444.3,460.1 483.5,520 490,531.6 500.5,549.3 511.8,586.4 515.7,598.1 523.1,643 537.2,668.4 549.9,690.9 556,700 570.4,720 580.6,735.2 608.7,768 621.6,791.4 627.5,810.1 641.5,830.1 649.3,854.7 647,861.7 634.5,869.9 628.2,873.4 627.5,879.3" fill="none" stroke="#000" stroke-width="1.9" stroke-linejoin="round"/>
<polyline points="318.9,167.5 291.9,226.1 320.8,283.6 338.75,309.4 355.2,333.7 359.9,340.8 370.4,395.9 348.3,449.4 355.8,501.1 395.6,549.5 417.5,564.4 450.3,590 462,598.1 493.2,644 446.4,689.5 447.3,720 448.9,768 464.6,789.1 533.7,810.1 566.1,830.1 551.3,845.3 549,854 583,867.6 587.2,872.3 585.3,874.6 586,879.3" fill="none" stroke="#4169e1" stroke-width="1.65" stroke-linejoin="round"/>
<line x1="784.6" y1="133.2" x2="784.6" y2="890" stroke="#888" stroke-width="0.9"/><g fill="#000"><circle cx="784.6" cy="182.8" r="1.9"/><circle cx="784.6" cy="260.3" r="1.9"/><circle cx="784.6" cy="339.4" r="1.9"/><circle cx="784.6" cy="416.7" r="1.9"/><circle cx="784.6" cy="565.5" r="1.9"/><circle cx="784.6" cy="635.2" r="1.9"/><circle cx="784.6" cy="662.5" r="1.9"/><circle cx="784.6" cy="689.4" r="1.9"/><circle cx="784.6" cy="715.6" r="1.9"/><circle cx="784.6" cy="741.5" r="1.9"/><circle cx="784.6" cy="766.9" r="1.9"/><circle cx="784.6" cy="779.6" r="1.9"/><circle cx="784.6" cy="792.3" r="1.9"/><circle cx="784.6" cy="804.6" r="1.9"/><circle cx="784.6" cy="816.7" r="1.9"/><circle cx="784.6" cy="829.4" r="1.9"/><circle cx="784.6" cy="841.5" r="1.9"/><circle cx="784.6" cy="853.8" r="1.9"/><circle cx="784.6" cy="865.5" r="1.9"/><circle cx="784.6" cy="877.8" r="1.9"/><circle cx="784.6" cy="889" r="1.9"/><circle cx="784.6" cy="492.2" r="1.9"/></g><clipPath id="cc"><rect x="700" y="133.2" width="200" height="800"/></clipPath><g clip-path="url(#cc)" fill="none" stroke="#444" stroke-width="0.9"><circle cx="784.6" cy="133.2" r="3.8"/><circle cx="784.6" cy="265.6" r="3.8"/><circle cx="784.6" cy="359.4" r="3.8"/><circle cx="784.6" cy="432.3" r="3.8"/><circle cx="784.6" cy="492.2" r="3.8"/><circle cx="784.6" cy="585.7" r="3.8"/><circle cx="784.6" cy="658.6" r="3.8"/><circle cx="784.6" cy="767.9" r="3.8"/><circle cx="784.6" cy="831.9" r="3.8"/><circle cx="784.6" cy="885" r="3.8"/></g><g stroke="#222" stroke-width="0.8" fill="none"><line x1="784.6" y1="168" x2="820.6" y2="173.3"/><line x1="820.6" y1="173.3" x2="824.32" y2="185.02"/><line x1="817.04" y1="172.78" x2="820.76" y2="184.5"/><line x1="813.48" y1="172.25" x2="817.2" y2="183.97"/><line x1="809.92" y1="171.73" x2="813.64" y2="183.45"/><line x1="806.35" y1="171.2" x2="808.03" y2="176.48"/><line x1="784.6" y1="226.25" x2="819.6" y2="233.4"/><line x1="819.6" y1="233.4" x2="822.67" y2="245.31"/><line x1="816.07" y1="232.68" x2="819.14" y2="244.59"/><line x1="812.55" y1="231.96" x2="815.62" y2="243.87"/><line x1="809.02" y1="231.24" x2="812.09" y2="243.15"/><line x1="784.6" y1="283.9" x2="820" y2="291.25"/><line x1="820" y1="291.25" x2="823.03" y2="303.17"/><line x1="816.48" y1="290.52" x2="819.51" y2="302.44"/><line x1="812.95" y1="289.79" x2="815.98" y2="301.71"/><line x1="809.43" y1="289.05" x2="810.79" y2="294.42"/><line x1="784.6" y1="340.9" x2="820" y2="344.1"/><line x1="820" y1="344.1" x2="824.37" y2="355.6"/><line x1="816.41" y1="343.78" x2="820.79" y2="355.27"/><line x1="812.83" y1="343.45" x2="817.2" y2="354.95"/><line x1="784.6" y1="396.4" x2="820.3" y2="396.4"/><line x1="820.3" y1="396.4" x2="825.69" y2="407.46"/><line x1="816.7" y1="396.4" x2="822.09" y2="407.46"/><line x1="813.1" y1="396.4" x2="815.53" y2="401.37"/><line x1="784.6" y1="449.2" x2="820.5" y2="446.4"/><line x1="820.5" y1="446.4" x2="826.74" y2="457"/><line x1="816.91" y1="446.68" x2="823.15" y2="457.28"/><line x1="813.32" y1="446.96" x2="816.13" y2="451.73"/><line x1="784.6" y1="500.6" x2="820.5" y2="499.2"/><line x1="820.5" y1="499.2" x2="826.32" y2="510.04"/><line x1="816.9" y1="499.34" x2="822.72" y2="510.18"/><line x1="813.31" y1="499.48" x2="815.92" y2="504.36"/><line x1="784.6" y1="549.8" x2="820.5" y2="548.3"/><line x1="820.5" y1="548.3" x2="826.35" y2="559.12"/><line x1="816.9" y1="548.45" x2="822.75" y2="559.27"/><line x1="813.31" y1="548.6" x2="815.94" y2="553.47"/><line x1="784.6" y1="598" x2="819.9" y2="594.6"/><line x1="819.9" y1="594.6" x2="826.33" y2="605.09"/><line x1="816.32" y1="594.95" x2="822.74" y2="605.43"/><line x1="812.73" y1="595.29" x2="819.16" y2="605.78"/><line x1="784.6" y1="644.4" x2="819.3" y2="637.3"/><line x1="819.3" y1="637.3" x2="826.8" y2="647.05"/><line x1="815.77" y1="638.02" x2="823.27" y2="647.77"/><line x1="812.25" y1="638.74" x2="819.74" y2="648.49"/><line x1="784.6" y1="688.6" x2="818.8" y2="678.3"/><line x1="818.8" y1="678.3" x2="827.15" y2="687.33"/><line x1="815.35" y1="679.34" x2="823.7" y2="688.37"/><line x1="811.91" y1="680.38" x2="820.26" y2="689.41"/><line x1="808.46" y1="681.41" x2="812.22" y2="685.48"/><line x1="784.6" y1="733.9" x2="818.2" y2="722.3"/><line x1="818.2" y1="722.3" x2="826.9" y2="730.99"/><line x1="814.8" y1="723.47" x2="823.5" y2="732.17"/><line x1="811.39" y1="724.65" x2="820.1" y2="733.34"/><line x1="807.99" y1="725.82" x2="811.91" y2="729.74"/><line x1="784.6" y1="766.9" x2="819.6" y2="759.1"/><line x1="819.6" y1="759.1" x2="827.27" y2="768.72"/><line x1="816.09" y1="759.88" x2="823.75" y2="769.5"/><line x1="812.57" y1="760.67" x2="820.24" y2="770.28"/><line x1="809.06" y1="761.45" x2="812.51" y2="765.78"/><line x1="784.6" y1="789.3" x2="820.2" y2="794.8"/><line x1="820.2" y1="794.8" x2="823.84" y2="806.55"/><line x1="816.64" y1="794.25" x2="820.28" y2="806"/><line x1="813.08" y1="793.7" x2="814.72" y2="798.99"/><line x1="784.6" y1="810.8" x2="820.2" y2="816.5"/><line x1="820.2" y1="816.5" x2="823.78" y2="828.27"/><line x1="816.65" y1="815.93" x2="818.25" y2="821.23"/><line x1="784.6" y1="831.3" x2="816.1" y2="841.7"/><line x1="816.1" y1="841.7" x2="816.84" y2="847.18"/><line x1="784.6" y1="853.9" x2="769.6" y2="900.5"/><line x1="769.6" y1="900.5" x2="757.79" y2="902.62"/><line x1="771.01" y1="896.12" x2="759.2" y2="898.24"/><line x1="772.42" y1="891.74" x2="760.61" y2="893.86"/><line x1="773.83" y1="887.36" x2="762.02" y2="889.48"/><line x1="775.24" y1="882.99" x2="769.92" y2="883.94"/><line x1="784.6" y1="865.5" x2="776.2" y2="903.5"/><line x1="776.2" y1="903.5" x2="764.64" y2="906.71"/><line x1="777.06" y1="899.59" x2="765.5" y2="902.81"/><line x1="784.6" y1="877.8" x2="777.8" y2="911.1"/><line x1="777.8" y1="911.1" x2="766.29" y2="914.5"/><line x1="778.6" y1="907.18" x2="767.09" y2="910.58"/><line x1="784.6" y1="889" x2="781.5" y2="914.2"/><line x1="781.5" y1="914.2" x2="770.3" y2="918.5"/><line x1="781.99" y1="910.23" x2="776.95" y2="912.16"/></g>
<line x1="870.5" y1="133" x2="870.5" y2="900.8" stroke="#111" stroke-width="1.4"/><line x1="870.5" y1="889.87" x2="881" y2="889.87" stroke="#555" stroke-width="1.1"/><line x1="870.5" y1="850.72" x2="881" y2="850.72" stroke="#555" stroke-width="1.1"/><line x1="870.5" y1="810.66" x2="881" y2="810.66" stroke="#555" stroke-width="1.1"/><line x1="870.5" y1="769.65" x2="881" y2="769.65" stroke="#555" stroke-width="1.1"/><line x1="870.5" y1="727.62" x2="881" y2="727.62" stroke="#555" stroke-width="1.1"/><line x1="870.5" y1="684.55" x2="881" y2="684.55" stroke="#555" stroke-width="1.1"/><line x1="870.5" y1="640.36" x2="881" y2="640.36" stroke="#555" stroke-width="1.1"/><line x1="870.5" y1="595" x2="881" y2="595" stroke="#555" stroke-width="1.1"/><line x1="870.5" y1="548.42" x2="881" y2="548.42" stroke="#555" stroke-width="1.1"/><line x1="870.5" y1="500.53" x2="881" y2="500.53" stroke="#555" stroke-width="1.1"/><line x1="870.5" y1="451.27" x2="881" y2="451.27" stroke="#555" stroke-width="1.1"/><line x1="870.5" y1="400.55" x2="881" y2="400.55" stroke="#555" stroke-width="1.1"/><line x1="870.5" y1="349.07" x2="881" y2="349.07" stroke="#555" stroke-width="1.1"/><line x1="870.5" y1="297.59" x2="881" y2="297.59" stroke="#555" stroke-width="1.1"/><line x1="870.5" y1="246.12" x2="881" y2="246.12" stroke="#555" stroke-width="1.1"/><line x1="870.5" y1="194.64" x2="881" y2="194.64" stroke="#555" stroke-width="1.1"/><line x1="870.5" y1="143.17" x2="881" y2="143.17" stroke="#555" stroke-width="1.1"/>
<g font-family="Liberation Sans, sans-serif"><text transform="translate(894.6,889.87) scale(1,1.07)" y="6.51" font-size="18.6" text-anchor="start">0</text><text transform="translate(894.6,850.72) scale(1,1.07)" y="6.51" font-size="18.6" text-anchor="start">1</text><text transform="translate(894.6,810.66) scale(1,1.07)" y="6.51" font-size="18.6" text-anchor="start">2</text><text transform="translate(894.6,769.65) scale(1,1.07)" y="6.51" font-size="18.6" text-anchor="start">3</text><text transform="translate(894.6,727.62) scale(1,1.07)" y="6.51" font-size="18.6" text-anchor="start">4</text><text transform="translate(894.6,684.55) scale(1,1.07)" y="6.51" font-size="18.6" text-anchor="start">5</text><text transform="translate(894.6,640.36) scale(1,1.07)" y="6.51" font-size="18.6" text-anchor="start">6</text><text transform="translate(894.6,595) scale(1,1.07)" y="6.51" font-size="18.6" text-anchor="start">7</text><text transform="translate(894.6,548.42) scale(1,1.07)" y="6.51" font-size="18.6" text-anchor="start">8</text><text transform="translate(894.6,500.53) scale(1,1.07)" y="6.51" font-size="18.6" text-anchor="start">9</text><text transform="translate(894.6,451.27) scale(1,1.07)" y="6.51" font-size="18.6" text-anchor="start">10</text><text transform="translate(894.6,400.55) scale(1,1.07)" y="6.51" font-size="18.6" text-anchor="start">11</text><text transform="translate(894.6,349.07) scale(1,1.07)" y="6.51" font-size="18.6" text-anchor="start">12</text><text transform="translate(894.6,297.59) scale(1,1.07)" y="6.51" font-size="18.6" text-anchor="start">13</text><text transform="translate(894.6,246.12) scale(1,1.07)" y="6.51" font-size="18.6" text-anchor="start">14</text><text transform="translate(894.6,194.64) scale(1,1.07)" y="6.51" font-size="18.6" text-anchor="start">15</text><text transform="translate(894.6,143.17) scale(1,1.07)" y="6.51" font-size="18.6" text-anchor="start">16</text><text transform="translate(88.3,133.22) scale(1,1.05)" y="6.65" font-size="19" text-anchor="end">100</text><text transform="translate(88.3,265.58) scale(1,1.05)" y="6.65" font-size="19" text-anchor="end">150</text><text transform="translate(88.3,359.49) scale(1,1.05)" y="6.65" font-size="19" text-anchor="end">200</text><text transform="translate(88.3,432.33) scale(1,1.05)" y="6.65" font-size="19" text-anchor="end">250</text><text transform="translate(88.3,491.85) scale(1,1.05)" y="6.65" font-size="19" text-anchor="end">300</text><text transform="translate(88.3,585.76) scale(1,1.05)" y="6.65" font-size="19" text-anchor="end">400</text><text transform="translate(88.3,658.6) scale(1,1.05)" y="6.65" font-size="19" text-anchor="end">500</text><text transform="translate(88.3,768.44) scale(1,1.05)" y="6.65" font-size="19" text-anchor="end">700</text><text transform="translate(88.3,831.82) scale(1,1.05)" y="6.65" font-size="19" text-anchor="end">850</text><text transform="translate(88.3,884.87) scale(1,1.05)" y="6.65" font-size="19" text-anchor="end">1000</text><text transform="translate(133.4,933) scale(1,1.05)" y="6.65" font-size="19" text-anchor="middle">-30</text><text transform="translate(218.88,933) scale(1,1.05)" y="6.65" font-size="19" text-anchor="middle">-20</text><text transform="translate(304.35,933) scale(1,1.05)" y="6.65" font-size="19" text-anchor="middle">-10</text><text transform="translate(389.83,933) scale(1,1.05)" y="6.65" font-size="19" text-anchor="middle">0</text><text transform="translate(475.3,933) scale(1,1.05)" y="6.65" font-size="19" text-anchor="middle">10</text><text transform="translate(560.78,933) scale(1,1.05)" y="6.65" font-size="19" text-anchor="middle">20</text><text transform="translate(646.25,933) scale(1,1.05)" y="6.65" font-size="19" text-anchor="middle">30</text><text transform="translate(731.73,933) scale(1,1.05)" y="6.65" font-size="19" text-anchor="middle">40</text><text transform="translate(486.6,963.6) scale(1,1.04)" y="0" font-size="17.8" text-anchor="middle">Temperature (C)</text><text transform="translate(53.2,537.6) rotate(-90) scale(1,1.04)" y="0" font-size="17.7" text-anchor="middle">P (hPa)</text><text transform="translate(847.8,542) rotate(90) scale(1,1.04)" y="0" font-size="20" text-anchor="middle">Height (Km)</text><text transform="translate(383.3,109.2) scale(1,1.03)" y="0" font-size="21.2" text-anchor="middle">LOGA at 2018-07-29_06:00:00</text><text transform="translate(385.2,127.7) scale(1,1.04)" y="0" font-size="10.55" text-anchor="middle" fill="#a0522d">Plcl=905 Tlcl[C]=19 Shox=-2 Pwat[cm]=4 Cape[J]= 372</text></g></svg>
</body></html>
